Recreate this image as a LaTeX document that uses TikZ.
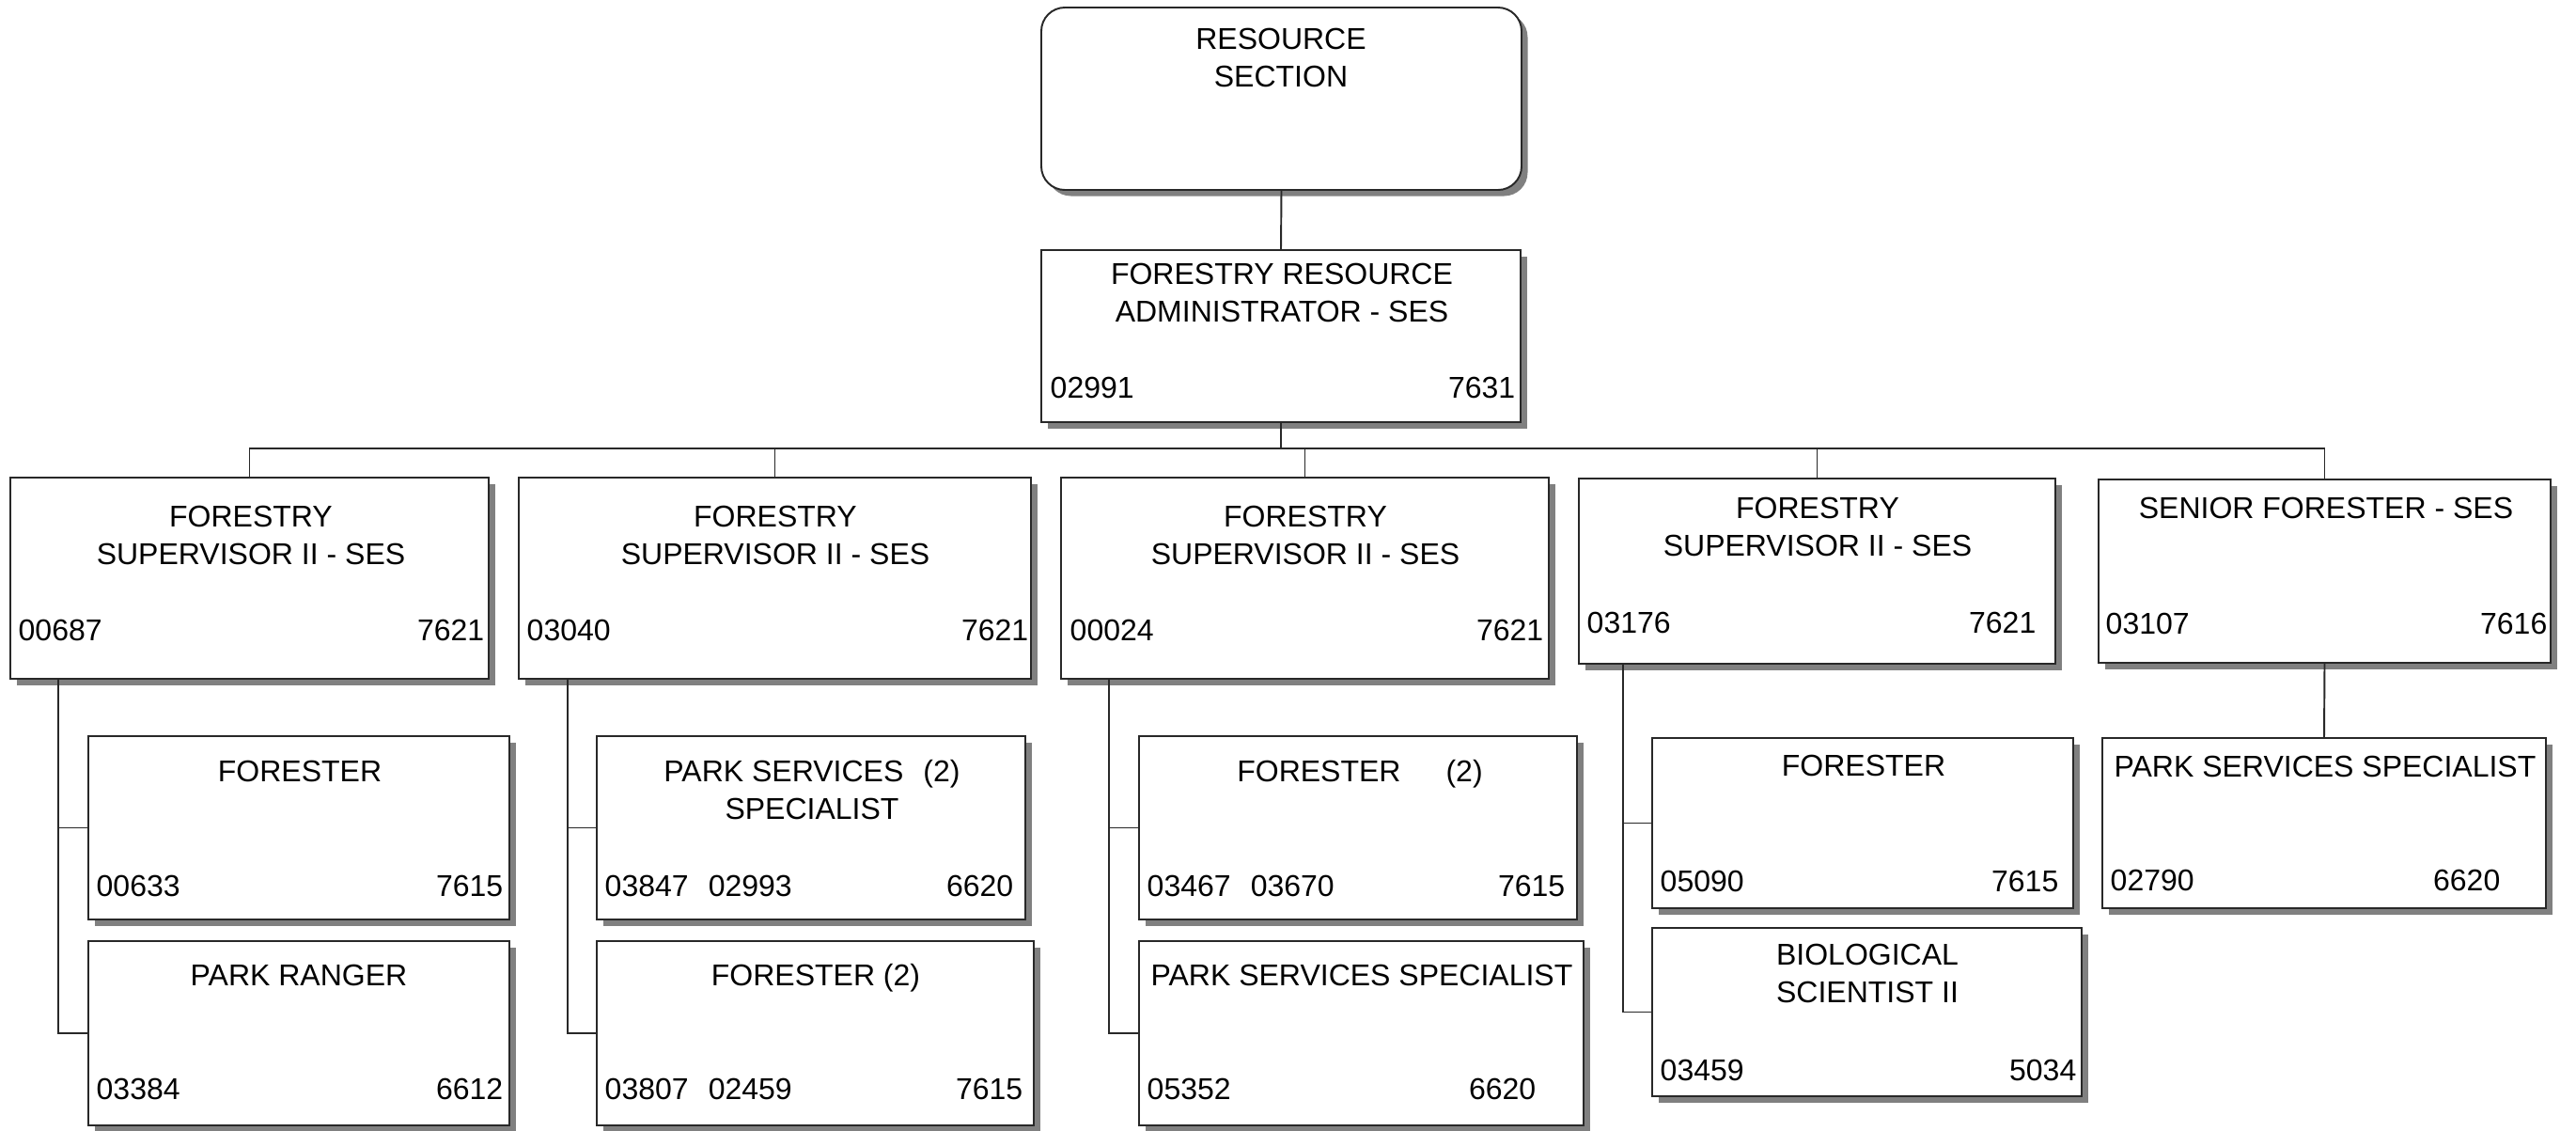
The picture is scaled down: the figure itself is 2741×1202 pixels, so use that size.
\documentclass[tikz,border=0pt]{standalone}
\usepackage{fontspec}
\setmainfont{Liberation Sans}
\usepackage{xcolor}
\definecolor{line_grey}{RGB}{40,40,40}
\definecolor{shadow_grey}{RGB}{128,128,128}
\usetikzlibrary{fit,shadows}

\tikzset{
  post/.style={draw=line_grey, line width=0.55pt, fill=white, inner sep=0pt,
    drop shadow={shadow xshift=0.065cm, shadow yshift=-0.065cm, fill=shadow_grey, opacity=1}},
  title/.style={anchor=north, inner sep=0pt, align=center},
  posnum/.style={anchor=base west, inner sep=0pt},
  clsnum/.style={anchor=base east, inner sep=0pt},
  link/.style={draw=line_grey, line width=0.55pt}
}

\begin{document}
\begin{tikzpicture}[x=0.01cm, y=-0.01cm, font=\fontsize{9.1pt}{11.4pt}\selectfont]
\useasboundingbox (0,0) rectangle (2741,1202);

% section and administrator
\node[post, rounded corners=0.25cm, fit={(1108,8) (1619,202)}] (res) {};
\node[title] (rest) at (1363,29) {RESOURCE\\SECTION};

\node[post, fit={(1108,266) (1618,449)}] (admin) {};
\node[title] (admint) at (1364,279) {FORESTRY RESOURCE\\ADMINISTRATOR - SES};
\node[posnum] (adminp) at (1117,423) {02991};
\node[clsnum] (adminc) at (1613,423) {7631};

% supervisors
\node[post, fit={(11,508) (520,722)}] (sup1) {};
\node[title] (sup1t) at (267,537) {FORESTRY\\SUPERVISOR II - SES};
\node[posnum] (sup1p) at (19,681) {00687};
\node[clsnum] (sup1c) at (516,681) {7621};

\node[post, fit={(552,508) (1097,722)}] (sup2) {};
\node[title] (sup2t) at (825,537) {FORESTRY\\SUPERVISOR II - SES};
\node[posnum] (sup2p) at (560,681) {03040};
\node[clsnum] (sup2c) at (1095,681) {7621};

\node[post, fit={(1129,508) (1648,722)}] (sup3) {};
\node[title] (sup3t) at (1389,537) {FORESTRY\\SUPERVISOR II - SES};
\node[posnum] (sup3p) at (1138,681) {00024};
\node[clsnum] (sup3c) at (1643,681) {7621};

\node[post, fit={(1680,509) (2187,706)}] (sup4) {};
\node[title] (sup4t) at (1934,528) {FORESTRY\\SUPERVISOR II - SES};
\node[posnum] (sup4p) at (1688,673) {03176};
\node[clsnum] (sup4c) at (2167,673) {7621};

\node[post, fit={(2233,510) (2714,705)}] (sup5) {};
\node[title] (sup5t) at (2475,528) {SENIOR FORESTER - SES};
\node[posnum] (sup5p) at (2240,674) {03107};
\node[clsnum] (sup5c) at (2711,674) {7616};

% staff under each supervisor
\node[post, fit={(94,783) (542,978)}] (sup1a) {};
\node[title] (sup1at) at (319,808) {FORESTER};
\node[posnum] (sup1ap) at (102,953) {00633};
\node[clsnum] (sup1ac) at (536,953) {7615};

\node[post, fit={(94,1001) (542,1197)}] (sup1b) {};
\node[title] (sup1bt) at (318,1025) {PARK RANGER};
\node[posnum] (sup1bp) at (102,1169) {03384};
\node[clsnum] (sup1bc) at (536,1169) {6612};

\node[post, fit={(635,783) (1091,978)}] (sup2a) {};
\node[title] (sup2at) at (864,808) {PARK SERVICES\hspace{0.66em}(2)\\SPECIALIST};
\node[posnum] (sup2ap) at (643,953) {03847\hspace{0.66em}02993};
\node[clsnum] (sup2ac) at (1079,953) {6620};

\node[post, fit={(635,1001) (1100,1197)}] (sup2b) {};
\node[title] (sup2bt) at (868,1025) {FORESTER (2)};
\node[posnum] (sup2bp) at (643,1169) {03807\hspace{0.66em}02459};
\node[clsnum] (sup2bc) at (1089,1169) {7615};

\node[post, fit={(1212,783) (1678,978)}] (sup3a) {};
\node[title] (sup3at) at (1447,808) {FORESTER\hspace{1.5em}(2)};
\node[posnum] (sup3ap) at (1220,953) {03467\hspace{0.66em}03670};
\node[clsnum] (sup3ac) at (1666,953) {7615};

\node[post, fit={(1212,1001) (1685,1197)}] (sup3b) {};
\node[title] (sup3bt) at (1449,1025) {PARK SERVICES SPECIALIST};
\node[posnum] (sup3bp) at (1220,1169) {05352};
\node[clsnum] (sup3bc) at (1635,1169) {6620};

\node[post, fit={(1758,785) (2206,966)}] (sup4a) {};
\node[title] (sup4at) at (1983,802) {FORESTER};
\node[posnum] (sup4ap) at (1766,948) {05090};
\node[clsnum] (sup4ac) at (2191,948) {7615};

\node[post, fit={(1758,987) (2215,1166)}] (sup4b) {};
\node[title] (sup4bt) at (1987,1003) {BIOLOGICAL\\SCIENTIST II};
\node[posnum] (sup4bp) at (1766,1149) {03459};
\node[clsnum] (sup4bc) at (2210,1149) {5034};

\node[post, fit={(2237,785) (2709,966)}] (sup5a) {};
\node[title] (sup5at) at (2474,803) {PARK SERVICES SPECIALIST};
\node[posnum] (sup5ap) at (2245,947) {02790};
\node[clsnum] (sup5ac) at (2661,947) {6620};

% reporting lines
\draw[link] (res.south) -- (admin.north);
\coordinate (bus) at (1363,477);
\draw[link] (admin.south) -- (bus);
\foreach \s in {sup1,sup2,sup3,sup4,sup5}
  \draw[link] (\s.north) |- (bus);

\coordinate (trunk1) at ([xshift=0.52cm]sup1.south west);
\coordinate (trunk2) at ([xshift=0.53cm]sup2.south west);
\coordinate (trunk3) at ([xshift=0.52cm]sup3.south west);
\coordinate (trunk4) at ([xshift=0.48cm]sup4.south west);
\foreach \t/\s in {trunk1/sup1, trunk2/sup2, trunk3/sup3, trunk4/sup4} {
  \draw[link] (\t) |- (\s b.west);
  \draw[link] (\t) |- (\s a.west);
}
\draw[link] (sup5.south) -- (sup5a.north);

\end{tikzpicture}
\end{document}
